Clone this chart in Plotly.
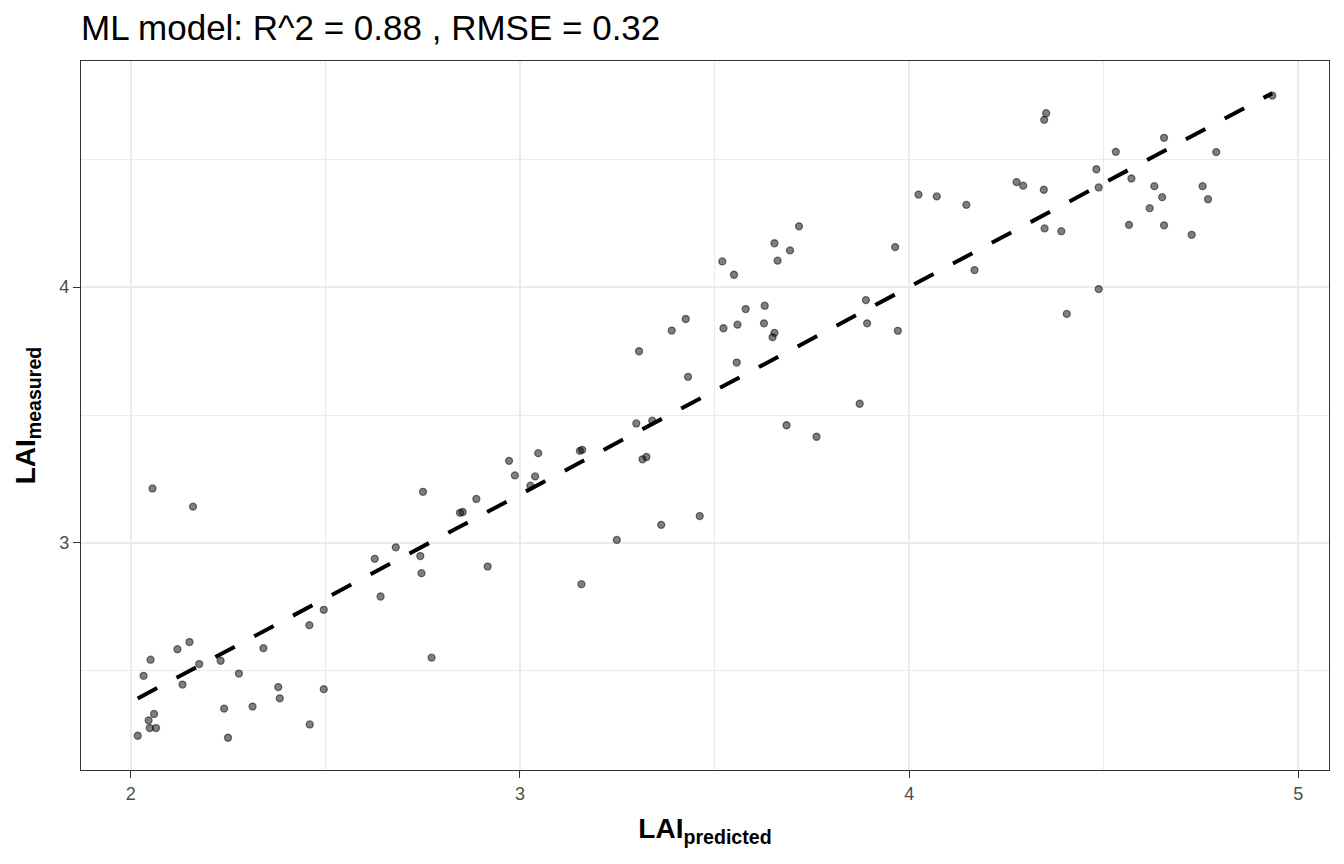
"""
Scatter of predicted vs measured LAI with a dashed linear fit (ggplot theme_bw look)
"""

import numpy as np
import plotly.graph_objects as go

# values
lai_predicted = [
    2.018, 2.033, 2.046, 2.049, 2.060, 2.065, 2.051, 2.056, 2.120, 2.133,
    2.151, 2.160, 2.176, 2.231, 2.240, 2.250, 2.278, 2.313, 2.341, 2.379,
    2.383, 2.459, 2.460, 2.496, 2.496, 2.627, 2.642, 2.681, 2.744, 2.747,
    2.751, 2.773, 2.846, 2.853, 2.888, 2.917, 2.972, 2.987, 3.027, 3.039,
    3.047, 3.154, 3.160, 3.158, 3.249, 3.299, 3.306, 3.315, 3.325, 3.340,
    3.363, 3.390, 3.426, 3.432, 3.462, 3.520, 3.523, 3.550, 3.557, 3.559,
    3.580, 3.629, 3.627, 3.654, 3.654, 3.649, 3.662, 3.685, 3.694, 3.717,
    3.762, 3.873, 3.889, 3.892, 3.964, 3.971, 4.024, 4.071, 4.147, 4.168,
    4.276, 4.293, 4.347, 4.352, 4.346, 4.348, 4.391, 4.405, 4.481, 4.487,
    4.487, 4.531, 4.565, 4.571, 4.618, 4.630, 4.650, 4.655, 4.655, 4.726,
    4.754, 4.768, 4.789, 4.933,
]
lai_measured = [
    2.247, 2.481, 2.307, 2.277, 2.332, 2.277, 2.544, 3.213, 2.585, 2.447,
    2.613, 3.142, 2.527, 2.540, 2.353, 2.239, 2.490, 2.361, 2.589, 2.437,
    2.393, 2.679, 2.291, 2.739, 2.429, 2.938, 2.791, 2.983, 2.949, 2.882,
    3.200, 2.552, 3.118, 3.121, 3.172, 2.908, 3.321, 3.264, 3.224, 3.260,
    3.351, 3.360, 3.364, 2.839, 3.012, 3.467, 3.749, 3.327, 3.336, 3.478,
    3.071, 3.830, 3.875, 3.649, 3.105, 4.100, 3.839, 4.048, 3.705, 3.853,
    3.914, 3.927, 3.858, 4.171, 3.821, 3.804, 4.103, 3.460, 4.143, 4.237,
    3.415, 3.544, 3.949, 3.858, 4.156, 3.829, 4.361, 4.354, 4.321, 4.066,
    4.410, 4.396, 4.653, 4.679, 4.380, 4.229, 4.218, 3.895, 4.460, 4.389,
    3.992, 4.528, 4.243, 4.424, 4.308, 4.394, 4.351, 4.241, 4.583, 4.204,
    4.394, 4.343, 4.527, 4.748,
]
title_text = "ML model: R^2 = 0.88 , RMSE = 0.32"

FONT = "Liberation Sans, Arial, sans-serif"

# linear fit of measured on predicted, drawn over the predicted range
x = np.array(lai_predicted)
y = np.array(lai_measured)
slope, intercept = np.polyfit(x, y, 1)
fit_x = np.array([x.min(), x.max()])
fit_y = slope * fit_x + intercept


def expand(lo, hi, mult=0.05):
    pad = (hi - lo) * mult
    return [lo - pad, hi + pad]


x_range = expand(min(x.min(), fit_x.min()), max(x.max(), fit_x.max()))
y_range = expand(min(y.min(), fit_y.min()), max(y.max(), fit_y.max()))

fig = go.Figure()
fig.add_trace(go.Scatter(
    x=lai_predicted, y=lai_measured, mode="markers",
    marker=dict(size=7, color="rgba(0,0,0,0.5)",
                line=dict(color="rgba(0,0,0,0.5)", width=1.3)),
    showlegend=False, hoverinfo="x+y",
))
fig.add_trace(go.Scatter(
    x=fit_x, y=fit_y, mode="lines",
    line=dict(color="black", width=4, dash="22px,22px"),
    showlegend=False, hoverinfo="skip",
))

axis_common = dict(
    showgrid=True, gridcolor="#EBEBEB", gridwidth=2,
    minor=dict(showgrid=True, gridcolor="#EBEBEB", gridwidth=1, dtick=0.5),
    zeroline=False, automargin=False,
    showline=True, mirror=True, linecolor="#333333", linewidth=1.3,
    ticks="outside", ticklen=7, tickwidth=1.3, tickcolor="#333333",
    tickfont=dict(family=FONT, size=18, color="#4D4D4D"),
    dtick=1, tick0=0,
)

fig.update_layout(
    width=1344, height=864,
    margin=dict(l=81, r=15, t=61, b=94),
    paper_bgcolor="white", plot_bgcolor="white",
    font=dict(family=FONT),
    title=dict(
        text=title_text, x=81 / 1344, xref="container", xanchor="left",
        y=1 - 28 / 864, yref="container", yanchor="middle",
        font=dict(family=FONT, size=35, color="black"),
    ),
    xaxis=dict(
        axis_common, range=x_range,
        title=dict(text="<b>LAI<sub>predicted</sub></b>",
                   font=dict(family=FONT, size=28, color="black")),
    ),
    yaxis=dict(
        axis_common, range=y_range,
        title=dict(text="<b>LAI<sub>measured</sub></b>",
                   font=dict(family=FONT, size=28, color="black")),
    ),
)

# drop the default body margin so the figure sits at the page corner
fig.write_html("out.html", config={"displayModeBar": False},
               post_script="document.body.style.margin='0px';")
